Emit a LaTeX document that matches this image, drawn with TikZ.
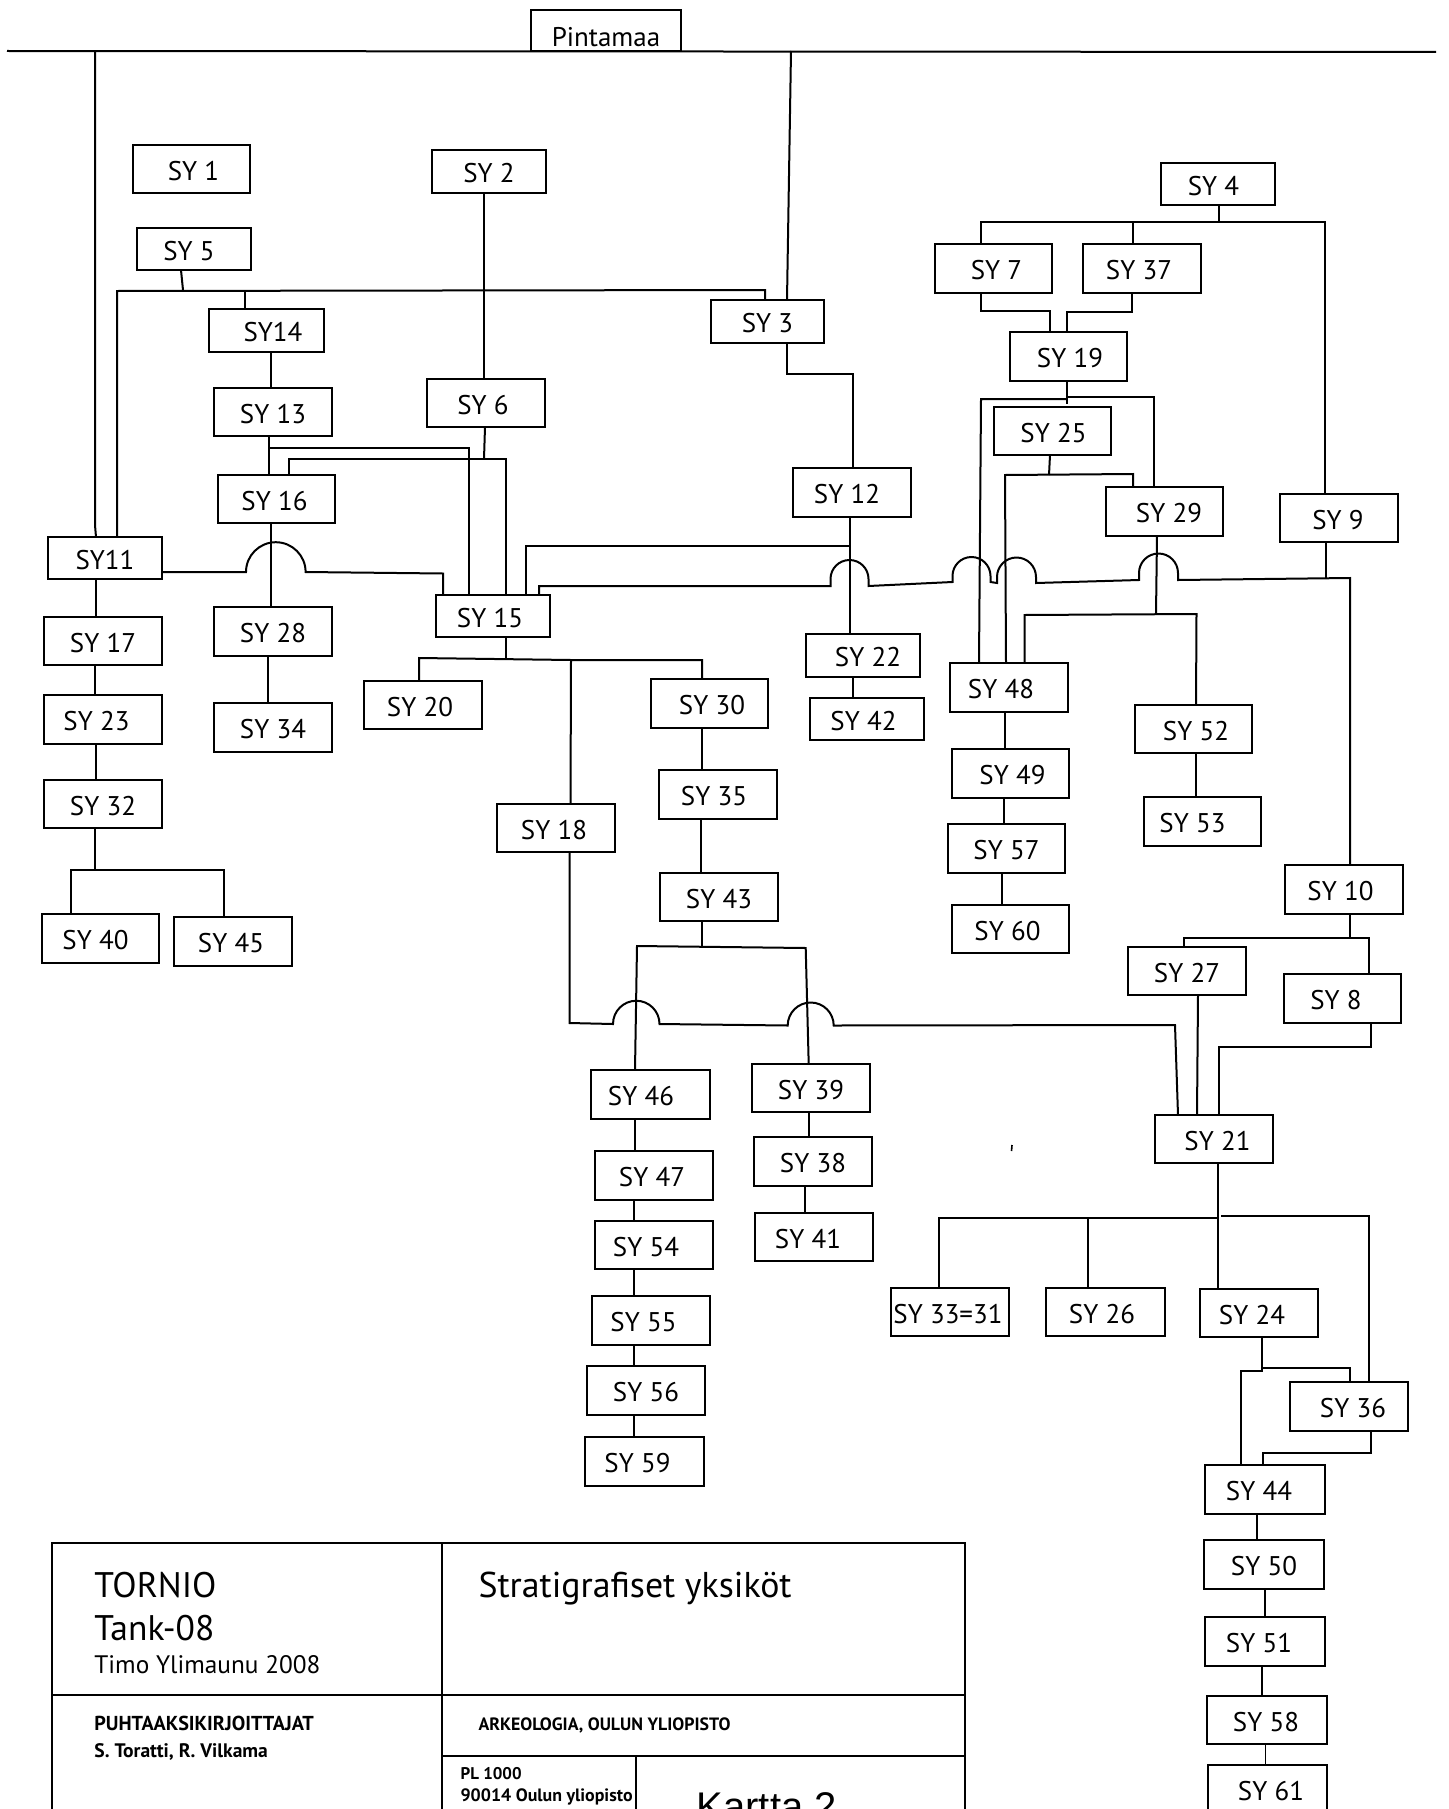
\documentclass[tikz,border=0pt]{standalone}
\usepackage{fontspec}
\setmainfont{PT Sans}
\newfontfamily\labfont{PT Sans}
\newfontfamily\karfont{Liberation Sans}
\newcommand{\bx}[8][]{\node[box,#1,minimum width={(#5-#3)*1pt},minimum height={(#6-#4)*1pt}] (#2) at ({(#3+#5)/2},{(#4+#6)/2}) {\makebox[0pt]{\hspace*{#7pt}\hspace*{#7pt}#8}};}
\tikzset{
  box/.style={draw, rectangle, line width=2.2pt, inner sep=0pt, outer sep=0pt,
    font=\labfont\fontsize{27}{30}\selectfont, text height=22pt, text depth=0pt},
  conn/.style={line width=2pt, line join=miter},
  tb/.style={line width=1.2pt},
  ttl/.style={anchor=base west, inner sep=0pt, outer sep=0pt}
}
\begin{document}
\begin{tikzpicture}[x=1pt,y=-1pt]
\useasboundingbox (0,0) rectangle (1448,1809);
\clip (0,0) rectangle (1448,1809);

% boxes
\bx[text height=32pt]{pinta}{531}{10}{681}{51}{0}{Pintamaa}
\bx{sy1}{133}{145}{250}{193}{2}{SY 1}
\bx{sy2}{432}{150}{546}{193}{0}{SY 2}
\bx{sy5}{137}{228}{251}{270}{-5}{SY 5}
\bx{sy14}{209}{309}{324}{352}{6.5}{SY14}
\bx{sy13}{214}{388}{332}{436}{0}{SY 13}
\bx{sy6}{427}{379}{545}{427}{-3}{SY 6}
\bx{sy16}{218}{475}{335}{523}{-2}{SY 16}
\bx{sy11}{48}{537}{162}{579}{0}{SY11}
\bx{sy3}{711}{300}{824}{343}{0}{SY 3}
\bx{sy12}{793}{468}{911}{517}{-5}{SY 12}
\bx{sy4}{1161}{163}{1275}{205}{-4.5}{SY 4}
\bx{sy7}{935}{244}{1052}{293}{3}{SY 7}
\bx{sy37}{1083}{244}{1201}{293}{-3}{SY 37}
\bx{sy19}{1010}{332}{1127}{381}{1.5}{SY 19}
\bx{sy25}{994}{407}{1111}{455}{1}{SY 25}
\bx{sy29}{1106}{487}{1223}{536}{4.5}{SY 29}
\bx{sy9}{1280}{494}{1398}{542}{-1}{SY 9}
\bx{sy15}{436}{595}{550}{637}{-3}{SY 15}
\bx{sy22}{806}{634}{920}{677}{5}{SY 22}
\bx{sy42}{810}{698}{924}{740}{-3.5}{SY 42}
\bx{sy48}{950}{663}{1068}{712}{-8}{SY 48}
\bx{sy49}{952}{749}{1069}{798}{2}{SY 49}
\bx{sy57}{948}{824}{1065}{873}{0}{SY 57}
\bx{sy60}{952}{905}{1069}{953}{-3}{SY 60}
\bx{sy52}{1135}{705}{1252}{753}{2.5}{SY 52}
\bx{sy53}{1144}{797}{1261}{846}{-10}{SY 53}
\bx{sy10}{1285}{865}{1403}{914}{-3.5}{SY 10}
\bx{sy27}{1128}{947}{1246}{995}{0}{SY 27}
\bx{sy8}{1284}{974}{1401}{1023}{-6.5}{SY 8}
\bx{sy21}{1155}{1115}{1273}{1163}{3.5}{SY 21}
\bx{sy3331}{891}{1288}{1009}{1336}{-2}{SY 33=31}
\bx{sy26}{1046}{1288}{1165}{1336}{-3.5}{SY 26}
\bx{sy24}{1200}{1289}{1318}{1337}{-7}{SY 24}
\bx{sy36}{1290}{1382}{1408}{1431}{4}{SY 36}
\bx{sy44}{1205}{1465}{1325}{1514}{-6}{SY 44}
\bx{sy50}{1204}{1540}{1324}{1589}{0}{SY 50}
\bx{sy51}{1205}{1617}{1325}{1666}{-6}{SY 51}
\bx{sy58}{1207}{1696}{1327}{1744}{-1}{SY 58}
\bx{sy61}{1208}{1765}{1327}{1814}{3.5}{SY 61}
\bx{sy17}{44}{617}{162}{665}{0}{SY 17}
\bx{sy23}{44}{695}{162}{744}{-6.5}{SY 23}
\bx{sy32}{44}{780}{162}{828}{0}{SY 32}
\bx{sy40}{42}{914}{159}{963}{-5}{SY 40}
\bx{sy45}{174}{917}{292}{966}{-2}{SY 45}
\bx{sy28}{214}{607}{332}{656}{0}{SY 28}
\bx{sy34}{214}{703}{332}{752}{0}{SY 34}
\bx{sy20}{364}{681}{482}{729}{-3}{SY 20}
\bx{sy30}{651}{679}{768}{728}{2.5}{SY 30}
\bx{sy35}{659}{770}{777}{819}{-4}{SY 35}
\bx{sy43}{660}{873}{778}{921}{0}{SY 43}
\bx{sy18}{497}{804}{615}{852}{-2}{SY 18}
\bx{sy46}{591}{1070}{710}{1119}{-9.5}{SY 46}
\bx{sy47}{595}{1151}{713}{1200}{-2}{SY 47}
\bx{sy54}{595}{1221}{713}{1269}{-8}{SY 54}
\bx{sy55}{592}{1296}{710}{1345}{-7.5}{SY 55}
\bx{sy56}{587}{1366}{705}{1415}{0}{SY 56}
\bx{sy59}{585}{1437}{704}{1486}{-7}{SY 59}
\bx{sy39}{752}{1064}{870}{1112}{0}{SY 39}
\bx{sy38}{754}{1137}{872}{1186}{0}{SY 38}
\bx{sy41}{755}{1213}{873}{1261}{-6}{SY 41}

% surface line
\coordinate (tl) at (7,51);
\coordinate (tr) at (1436,52);
\draw[conn] (tl) -- (tr);

% connectors, left part
\draw[conn] (tl -| 95,0) -- (95,525) -- (sy11.north -| 96,0);
\draw[conn] (sy5.south -| 181,0) -- (183,290);
\draw[conn] (sy11.north -| 117,0) -- (117,291) -- (765,290) -- (sy3.north -| 765,0);
\draw[conn] (245,290) -- (sy14.north -| 245,0);
\draw[conn] (tl -| 791,0) -- (sy3.north -| 787,0);
\draw[conn] (sy2.south -| 484,0) -- (sy6.north -| 484,0);
\draw[conn] (sy14.south -| 270.5,0) -- (sy13.north -| 270.5,0);
\draw[conn] (sy13.south -| 269,0) -- (sy16.north -| 269,0);
\draw[conn] (269,448) -- (469,448) -- (sy15.north -| 469,0);
\draw[conn] (sy6.south -| 485,0) -- (484,459);
\draw[conn] (sy16.north -| 289,0) -- (289,459) -- (506,459) -- (sy15.north -| 506,0);
\draw[conn] (sy16.south -| 270.5,0) -- (sy28.north -| 270.5,0);
\draw[conn] (sy11.east |- 0,572) -- (246,572) arc[start angle=180,end angle=0,radius=29.8pt] -- (443,573.5) -- (sy15.north -| 443,0);
\draw[conn] (sy15.north -| 526,0) -- (526,546) -- (849.5,546);
\draw[conn] (sy12.south -| 849.5,0) -- (sy22.north -| 849.5,0);
\draw[conn] (sy3.south -| 787,0) -- (787,374) -- (853,374) -- (sy12.north -| 853,0);

% long hop row SY15 -> SY10
\draw[conn] (sy15.north -| 539,0) -- (539,586) -- (830.5,586) -- ++(0pt,7pt)
  arc[start angle=180,end angle=0,radius=19pt] -- ++(0pt,-7pt)
  -- (952.5,582) -- ++(0pt,6pt) arc[start angle=180,end angle=0,radius=19pt] -- ++(0pt,-6pt)
  -- (997,583) -- ++(0pt,6pt) arc[start angle=180,end angle=0,radius=19.5pt] -- ++(0pt,-6pt)
  -- (1139,580) -- ++(0pt,7pt) arc[start angle=180,end angle=0,radius=19.5pt] -- ++(0pt,-7pt)
  -- (1350,578) -- (sy10.north -| 1350,0);
\draw[conn] (sy9.south -| 1326,0) -- (1326,578);

% SY4 group
\draw[conn] (sy4.south -| 1219,0) -- (1219,222);
\draw[conn] (sy7.north -| 981,0) -- (981,222) -- (1325,222) -- (sy9.north -| 1325,0);
\draw[conn] (1133,222) -- (sy37.north -| 1133,0);
\draw[conn] (sy7.south -| 981,0) -- (981,311) -- (1049.5,311) -- (sy19.north -| 1049.5,0);
\draw[conn] (sy37.south -| 1132,0) -- (1132,312) -- (1067,312) -- (sy19.north -| 1067,0);
\draw[conn] (sy19.south -| 1066.5,0) -- (1066.5,404);
\draw[conn] (sy48.north -| 979,0) -- (981,399) -- (1066.5,399);
\draw[conn] (1066.5,397) -- (1154,397) -- (sy29.north -| 1154,0);
\draw[conn] (sy25.south -| 1050,0) -- (1049,475);
\draw[conn] (sy48.north -| 1006,0) -- (1005,475) -- (1133,474) -- (sy29.north -| 1133,0);
\draw[conn] (sy29.south -| 1157,0) -- (1156,614);
\draw[conn] (sy48.north -| 1024.5,0) -- (1024.5,615) -- (1196.5,614) -- (sy52.north -| 1196,0);
\draw[conn] (sy48.south -| 1005,0) -- (sy49.north -| 1005,0);
\draw[conn] (sy49.south -| 1004,0) -- (sy57.north -| 1004,0);
\draw[conn] (sy57.south -| 1002,0) -- (sy60.north -| 1002,0);
\draw[conn] (sy52.south -| 1196,0) -- (sy53.north -| 1196,0);
\draw[conn] (sy22.south -| 853,0) -- (sy42.north -| 853,0);

% SY15 children
\draw[conn] (sy15.south -| 506,0) -- (506,658);
\draw[conn] (sy20.north -| 419,0) -- (419,658) -- (571,660) -- (702,660) -- (sy30.north -| 702,0);
\draw[conn] (571,660) -- (sy18.north -| 570.5,0);
\draw[conn] (sy30.south -| 702,0) -- (sy35.north -| 702,0);
\draw[conn] (sy35.south -| 701,0) -- (sy43.north -| 701,0);
\draw[conn] (sy43.south -| 701.5,0) -- (701.5,946);
\draw[conn] (sy46.north -| 635,0) -- (637,946) -- (805.7,948) -- (sy39.north -| 808.7,0);
\draw[conn] (sy18.south -| 569.5,0) -- (569.5,1023) -- (613,1024)
  arc[start angle=180,end angle=0,radius=23.25pt] -- (787.7,1025.5)
  arc[start angle=180,end angle=0,radius=23pt] -- (1175,1025) -- (sy21.north -| 1178,0);

% SY10 group
\draw[conn] (sy10.south -| 1350,0) -- (1350,938);
\draw[conn] (sy27.north -| 1184,0) -- (1184,938) -- (1369,938) -- (sy8.north -| 1369,0);
\draw[conn] (sy27.south -| 1198,0) -- (sy21.north -| 1197,0);
\draw[conn] (sy8.south -| 1370.5,0) -- (1370.5,1046.6) -- (1219,1046.6) -- (sy21.north -| 1219,0);
\draw[conn] (sy21.south -| 1218,0) -- (sy24.north -| 1218,0);
\draw[conn] (sy3331.north -| 938.5,0) -- (938.5,1217.6) -- (1218,1217.6);
\draw[conn] (1088,1217.6) -- (sy26.north -| 1088,0);
\draw[conn] (1221,1216) -- (1369,1216) -- (sy36.north -| 1369,0);
\draw[conn] (sy24.south -| 1261.5,0) -- (1261.5,1370.5);
\draw[conn] (sy44.north -| 1240.5,0) -- (1240.5,1370.5) -- (1263,1370.5);
\draw[conn] (1261.5,1368) -- (1349.5,1368) -- (sy36.north -| 1349.5,0);
\draw[conn] (sy36.south -| 1370.5,0) -- (1370.5,1453) -- (1263,1453) -- (sy44.north -| 1263,0);
\draw[conn] (sy44.south -| 1257,0) -- (sy50.north -| 1257,0);
\draw[conn] (sy50.south -| 1265,0) -- (sy51.north -| 1265,0);
\draw[conn] (sy51.south -| 1261.5,0) -- (sy58.north -| 1261.5,0);
\draw[line width=1pt] (sy58.south -| 1265.5,0) -- (sy61.north -| 1265.5,0);

% left column
\draw[conn] (sy11.south -| 96,0) -- (sy17.north -| 96,0);
\draw[conn] (sy17.south -| 94.6,0) -- (sy23.north -| 94.6,0);
\draw[conn] (sy23.south -| 96,0) -- (sy32.north -| 96,0);
\draw[conn] (sy32.south -| 94.6,0) -- (94.6,870);
\draw[conn] (sy40.north -| 70.6,0) -- (70.6,870) -- (224.4,870) -- (sy45.north -| 224.4,0);
\draw[conn] (sy28.south -| 268,0) -- (sy34.north -| 268,0);

% SY46 and SY39 columns
\draw[conn] (sy46.south -| 635.4,0) -- (sy47.north -| 635.4,0);
\draw[conn] (sy47.south -| 634,0) -- (sy54.north -| 634,0);
\draw[conn] (sy54.south -| 634,0) -- (sy55.north -| 634,0);
\draw[conn] (sy55.south -| 634,0) -- (sy56.north -| 634,0);
\draw[conn] (sy56.south -| 634,0) -- (sy59.north -| 634,0);
\draw[conn] (sy39.south -| 808.7,0) -- (sy38.north -| 808.7,0);
\draw[conn] (sy38.south -| 805,0) -- (sy41.north -| 805,0);

% stray mark
\draw[line width=1.6pt] (1012,1145) -- (1011.5,1151);

% title block
\draw[tb] (52,1815) -- (52,1543) -- (965,1543) -- (965,1815);
\draw[tb] (442,1543) -- (442,1815);
\draw[tb] (52,1695) -- (965,1695);
\draw[tb] (442,1756) -- (965,1756);
\draw[tb] (636,1756) -- (636,1815);
\node[ttl] (tornio) at (94.4,1597) {\resizebox{122pt}{!}{TORNIO}};
\node[ttl] (tank) at (94.4,1640) {\resizebox{120pt}{!}{Tank-08}};
\node[ttl] (timo) at (94.4,1673) {\resizebox{226pt}{!}{Timo Ylimaunu 2008}};
\node[ttl] (strat) at (478.5,1597) {\resizebox{313pt}{!}{Stratigrafiset yksiköt}};
\node[ttl] (puht) at (94.4,1730) {\resizebox{219.5pt}{!}{\bfseries PUHTAAKSIKIRJOITTAJAT}};
\node[ttl] (tekij) at (94.4,1757) {\resizebox{173.5pt}{!}{\bfseries S. Toratti, R. Vilkama}};
\node[ttl] (arkeo) at (478.5,1730.5) {\resizebox{252pt}{!}{\bfseries ARKEOLOGIA, OULUN YLIOPISTO}};
\node[ttl] (pl) at (460.6,1779) {\resizebox{61pt}{!}{\bfseries PL 1000}};
\node[ttl] (osoite) at (460.6,1801) {\resizebox{172pt}{!}{\bfseries 90014 Oulun yliopisto}};
\node[ttl] (kartta) at (696.7,1820) {\karfont\fontsize{40}{44}\selectfont Kartta 2};
\end{tikzpicture}
\end{document}
